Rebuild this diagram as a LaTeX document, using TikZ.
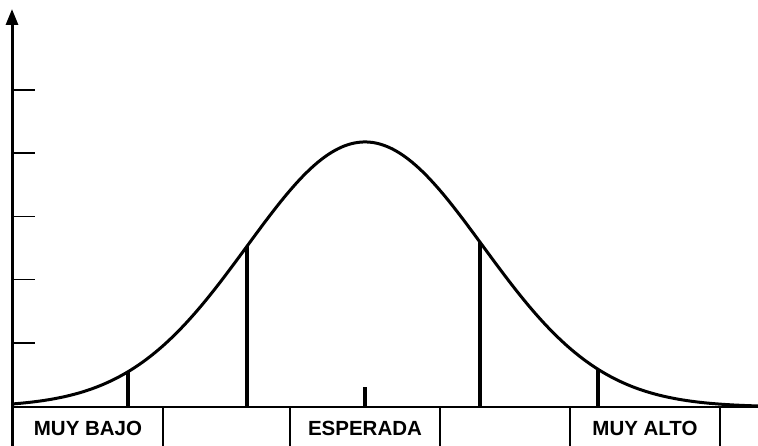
\documentclass[tikz,border=0pt]{standalone}
\usepackage{fontspec}
\setmainfont{Liberation Sans}
\usetikzlibrary{arrows.meta}

\begin{document}
\begin{tikzpicture}[x = 1pt, y = 1pt,
    declare function = {bell(\x) = 39 + 265*exp(-((\x-365)/118)^2/2);},
    lbl/.style = {font = \fontsize{20.5}{24}\selectfont\bfseries, inner sep = 0pt}]
    \useasboundingbox (0, 0) rectangle (758, 446);
    % axes
    \draw [line width = 3pt, -{Triangle[length = 16pt, width = 12pt]}] (12, 0) -- (12, 437);
    \draw [line width = 2pt] (12, 39) -- (758, 39);
    \foreach \t in {0, ..., 4}
      \draw [line width = 1.5pt] (12, {103 + 63.25*\t}) -- (35, {103 + 63.25*\t});
    % curve
    \draw [line width = 3pt, smooth, samples = 150, domain = 12:758]
      plot (\x, {bell(\x)});
    % marks under the curve
    \foreach \m in {128, 247, 480, 598}
      \draw [line width = 4pt] (\m, 39) -- (\m, {bell(\m)});
    \draw [line width = 4pt] (365, 39) -- (365, 59);
    % bands
    \foreach \s in {163, 290, 440, 570, 720}
      \draw [line width = 2pt] (\s, 0) -- (\s, 39);
    \node (bajo) at ( 88, 18) [lbl] {MUY BAJO};
    \node (esp)  at (365, 18) [lbl] {ESPERADA};
    \node (alto) at (645, 18) [lbl] {MUY ALTO};
  \end{tikzpicture}
\end{document}
